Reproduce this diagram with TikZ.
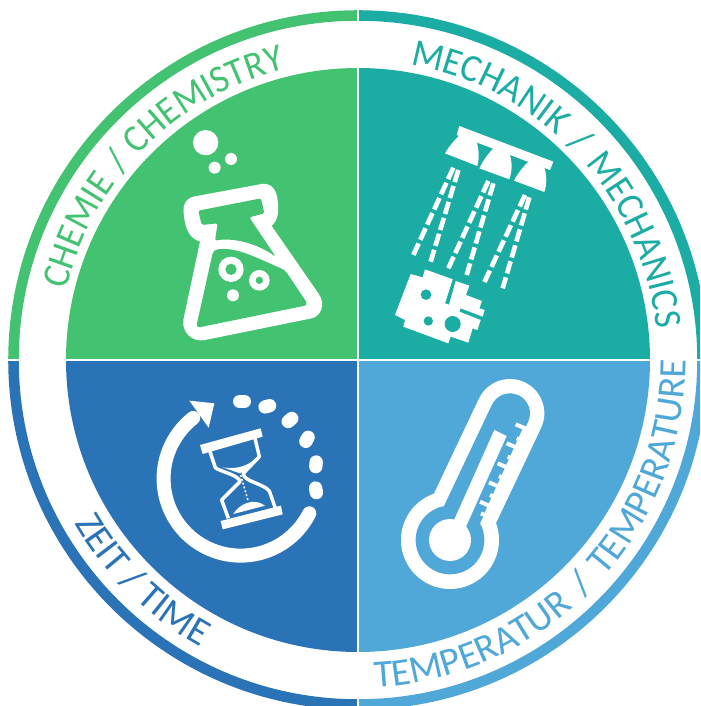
\documentclass[tikz,border=0pt]{standalone}
\usepackage{fontspec}
\setmainfont{Carlito}
\newfontfamily\narrowfam[FakeStretch=0.95]{Carlito}
\usetikzlibrary{decorations.text}
\definecolor{cgreen}{RGB}{67,195,113}
\definecolor{cteal}{RGB}{27,173,163}
\definecolor{cdark}{RGB}{43,115,183}
\definecolor{clight}{RGB}{80,168,216}
\newcommand{\arcfont}{\fontsize{29pt}{30pt}\selectfont}
\newcommand{\arcnarrow}{\narrowfam\fontsize{29pt}{30pt}\selectfont}
\tikzset{
  ringarc/.style={line width=7.9pt},
  icon/.style={fill=white},
  arctext/.style n args={2}{postaction={decorate},decoration={text along path,text align=fit to path stretching spaces,text={|\color{#1}\arcfont|#2}}},
  arctextnarrow/.style n args={2}{postaction={decorate},decoration={text along path,text align=fit to path stretching spaces,text={|\color{#1}\arcnarrow|#2}}},
  ray/.style={draw=white,line width=3.5pt,dash pattern=on 9.5pt off 3pt},
  dotmark/.style={white,line width=10pt,line cap=round},
  zoomed/.style={shift={#1},x=.25pt,y=-.25pt}
}
\begin{document}
\begin{tikzpicture}[x=.75pt,y=.75pt]
\useasboundingbox (-358,-346) rectangle (342,360);
\fill[white] (-358,-346) rectangle (342,360);
% quadrants
\fill[cgreen] (0,0) -- (180:292) arc[start angle=180,end angle=90,radius=292] -- cycle;
\fill[cteal] (0,0) -- (90:292) arc[start angle=90,end angle=0,radius=292] -- cycle;
\fill[clight] (0,0) -- (0:292) arc[start angle=0,end angle=-90,radius=292] -- cycle;
\fill[cdark] (0,0) -- (-90:292) arc[start angle=-90,end angle=-180,radius=292] -- cycle;
% ring
\begin{scope}
\clip (-358,-346) rectangle (342,360);
\draw[ringarc,cgreen] (180:344.5) arc[start angle=180,end angle=90,radius=344.5];
\draw[ringarc,cteal] (90:344.5) arc[start angle=90,end angle=0,radius=344.5];
\draw[ringarc,clight] (0:344.5) arc[start angle=0,end angle=-90,radius=344.5];
\draw[ringarc,cdark] (-90:344.5) arc[start angle=-90,end angle=-180,radius=344.5];
\end{scope}
\draw[white,line width=1.6pt] (0,-352) -- (0,360);
\draw[white,line width=1.6pt] (-358,0) -- (342,0);
% texts
\path[arctextnarrow={cgreen}{CHEMIE / CHEMISTRY}] (166.5:300) arc[start angle=166.5,end angle=104,radius=300];
\path[arctextnarrow={cteal}{MECHANIK / MECHANICS}] (80:300) arc[start angle=80,end angle=6,radius=300];
\path[arctext={clight}{TEMPERATUR / TEMPERATURE}] (-87:328) arc[start angle=-87,end angle=0,radius=328];
\path[arctext={cdark}{ZEIT / TIME}] (209.9:327) arc[start angle=209.9,end angle=240.9,radius=327];
% flask
\begin{scope}[zoomed={(-188,240)}]
\fill[icon] (107,68) circle[radius=38] (183,117) circle[radius=18] (134,143) circle[radius=18];
\fill[icon] (80,228) -- (275,192) .. controls (305,188) and (318,210) .. (322,235) .. controls (328,270) and (325,300) .. (305,318) -- (445,520) .. controls (470,555) and (450,590) .. (425,595) -- (105,660) .. controls (65,668) and (35,635) .. (40,600) -- (90,365) .. controls (60,355) and (45,330) .. (41,280) .. controls (38,250) and (50,232) .. (80,228) -- cycle;
\fill[cgreen,rounded corners=1.5pt] (85,272) -- (273,235) -- (283,280) -- (238,292) -- (317,410) .. controls (260,370) and (190,352) .. (135,362) -- (143,310) -- (95,315) -- cycle;
\fill[cgreen,rounded corners=3pt] (130,390) .. controls (200,380) and (250,410) .. (345,450) -- (415,555) -- (78,624) -- cycle;
\fill[icon] (183,448) circle[radius=38] (268,481) circle[radius=31] (189,526) circle[radius=18];
\fill[cgreen] (183,448) circle[radius=17] (268,481) circle[radius=11];
\end{scope}
% spray and workpiece
\begin{scope}[zoomed={(32,240)}]
\fill[icon] (208,18) -- (490,125) -- (480,150) -- (200,45) -- cycle;
\fill[icon] (165,100) .. controls (180,75) and (195,58) .. (215,40) -- (258,60) .. controls (268,90) and (268,115) .. (262,138) -- cycle;
\fill[icon] (268,145) .. controls (280,120) and (295,100) .. (315,80) -- (358,98) .. controls (368,130) and (366,155) .. (358,178) -- cycle;
\fill[icon] (372,182) .. controls (385,157) and (400,140) .. (420,120) -- (462,138) .. controls (472,170) and (470,195) .. (463,216) -- cycle;
\draw[ray] (190,143) -- (70,405);
\draw[ray] (205,150) -- (122,425);
\draw[ray] (295,183) -- (175,445);
\draw[ray] (310,190) -- (230,465);
\draw[ray] (405,225) -- (283,487);
\draw[ray] (418,232) -- (338,505);
\fill[icon] (105,448) -- (188,478) -- (165,550) -- (177,554) -- (197,483) -- (238,497) -- (228,525) -- (276,543) -- (268,565) -- (284,570) -- (278,590) -- (212,565) -- (208,575) -- (272,600) -- (262,630) -- (248,625) -- (235,668) -- (182,650) -- (175,670) -- (40,620) -- (45,600) -- (15,585) -- (62,462) -- (98,472) -- cycle;
\fill[cteal] (108,524) circle[radius=16] (115,603) circle[radius=14] (188,612) circle[radius=24];
\end{scope}
% hourglass
\begin{scope}[zoomed={(-208,-25)}]
\draw[white,line width=10.5pt,line cap=round] (478,385) arc[start angle=26.8,end angle=232,radius=231];
\fill[icon] (193,55) -- (118,47) -- (176,128) -- cycle;
\foreach \x/\y/\r in {276/49/0,352/64/15,420/105/40,471/163/60,498/238/85,498/316/100}
  \draw[dotmark,rotate around={\r:(\x,\y)}] (\x-7,\y) -- (\x+7,\y);
\fill[icon] (150,180) -- (332,130) -- (338,155) -- (158,207) -- cycle;
\fill[icon] (212,408) -- (393,362) -- (398,388) -- (218,433) -- cycle;
\draw[white,line width=2.6pt,line join=round] (180,200) -- (196,248) .. controls (205,258) and (268,270) .. (270,290) -- (215,345) -- (235,400);
\draw[white,line width=2.6pt,line join=round] (315,160) -- (328,215) -- (280,265) .. controls (280,290) and (340,295) .. (358,318) -- (378,375);
\fill[icon] (218,247) .. controls (245,252) and (285,250) .. (315,222) .. controls (300,245) and (285,260) .. (270,265) -- cycle;
\fill[icon] (250,387) .. controls (265,360) and (310,335) .. (345,362) -- cycle;
\draw[white,line width=1.1pt,dash pattern=on 1.5pt off 1.5pt] (272,270) -- (295,350);
\end{scope}
% thermometer
\begin{scope}[zoomed={(37,-15)}]
\fill[icon] (165,495) circle[radius=147];
\draw[white,line width=51.5pt,line cap=round] (165,495) -- (345,115);
\fill[clight] (165,495) circle[radius=103];
\draw[clight,line width=30pt,line cap=round] (165,495) -- (345,115);
\fill[icon] (165,495) circle[radius=63];
\fill[icon] (175,440) -- (298,165) -- (335,183) -- (213,455) -- cycle;
\draw[white,line width=2pt] (388,160) -- (268,425);
\foreach \a/\b/\c/\d in {362/148/395/162,365/190/383/197,335/205/370/220,338/245/356/253,308/265/342/280,312/303/328/310,282/322/316/337,285/360/300/367,255/380/288/395,258/415/273/422}
  \draw[white,line width=3pt] (\a,\b) -- (\c,\d);
\end{scope}
\end{tikzpicture}
\end{document}
